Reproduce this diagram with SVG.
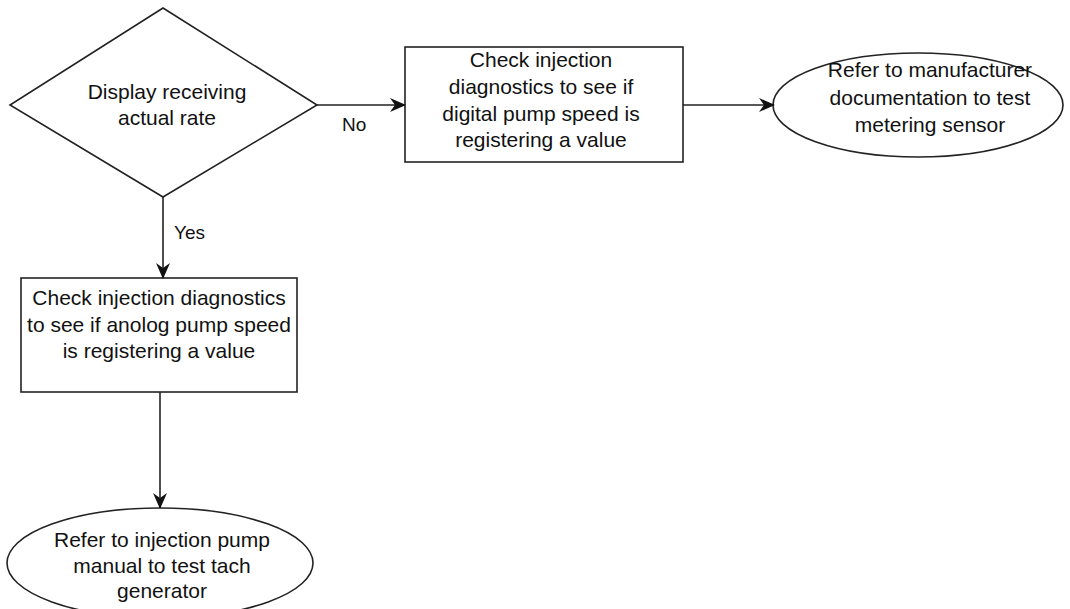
<svg xmlns="http://www.w3.org/2000/svg" width="1070" height="609" viewBox="0 0 1070 609">
<style>
.shape{fill:#fff;stroke:#222;stroke-width:1.6}
.t{font-family:"Liberation Sans",Arial,sans-serif;font-size:21px;fill:#111;text-anchor:middle}
.lbl{font-family:"Liberation Sans",Arial,sans-serif;font-size:19px;fill:#111}
.conn{stroke:#222;stroke-width:1.6;fill:none}
</style>
<defs>
<marker id="ah" markerWidth="16" markerHeight="14" refX="15" refY="7" orient="auto" markerUnits="userSpaceOnUse">
<path d="M0,0 L16,7 L0,14 L5,7 Z" fill="#111"/>
</marker>
</defs>
<rect width="1070" height="609" fill="#fff"/>
<g id="decision">
<polygon class="shape" points="163,8 317,105 163,197 10,105"/>
<text class="t" x="167" y="99">Display receiving</text>
<text class="t" x="167" y="125">actual rate</text>
</g>
<g id="check-digital">
<rect class="shape" x="405" y="47" width="278" height="115"/>
<text class="t" x="541" y="67">Check injection</text>
<text class="t" x="541" y="94">diagnostics to see if</text>
<text class="t" x="541" y="121">digital pump speed is</text>
<text class="t" x="541" y="147">registering a value</text>
</g>
<g id="refer-manufacturer">
<ellipse class="shape" cx="918" cy="105" rx="145" ry="52"/>
<text class="t" x="930" y="77">Refer to manufacturer</text>
<text class="t" x="930" y="105">documentation to test</text>
<text class="t" x="930" y="132">metering sensor</text>
</g>
<g id="check-analog">
<rect class="shape" x="21" y="278" width="276" height="114"/>
<text class="t" x="159" y="305">Check injection diagnostics</text>
<text class="t" x="159" y="332">to see if anolog pump speed</text>
<text class="t" x="159" y="358">is registering a value</text>
</g>
<g id="refer-pump">
<ellipse class="shape" cx="160" cy="563" rx="153" ry="55"/>
<text class="t" x="162" y="547">Refer to injection pump</text>
<text class="t" x="162" y="573">manual to test tach</text>
<text class="t" x="162" y="598">generator</text>
</g>
<g id="connectors">
<line class="conn" x1="317" y1="105" x2="405" y2="105" marker-end="url(#ah)"/>
<text class="lbl" x="342" y="131">No</text>
<line class="conn" x1="683" y1="105" x2="774" y2="105" marker-end="url(#ah)"/>
<line class="conn" x1="163" y1="197" x2="163" y2="278" marker-end="url(#ah)"/>
<text class="lbl" x="174" y="239">Yes</text>
<line class="conn" x1="160" y1="392" x2="160" y2="508" marker-end="url(#ah)"/>
</g>
</svg>
